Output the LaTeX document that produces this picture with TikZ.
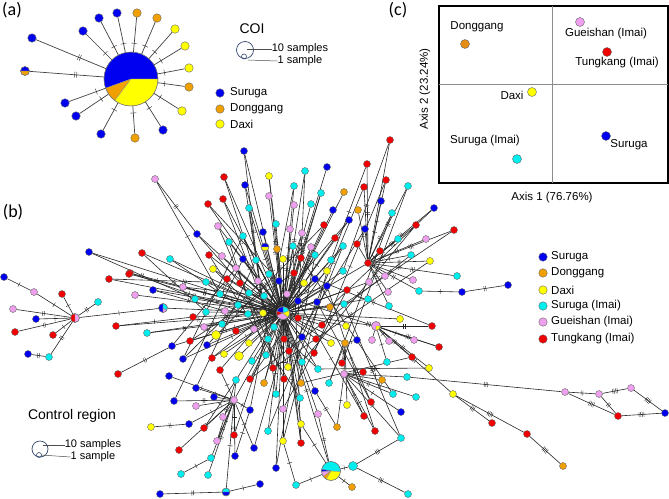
\documentclass[tikz,border=0pt]{standalone}
\usepackage{fontspec}
\setmainfont{Liberation Sans}
\newfontfamily\labfont{Carlito}
\usetikzlibrary{decorations.markings}
\pgfdeclarelayer{edges}
\pgfsetlayers{edges,main}
\definecolor{cSur}{RGB}{0,0,240}
\definecolor{cDon}{RGB}{240,160,0}
\definecolor{cDonC}{RGB}{228,140,20}
\definecolor{cDax}{RGB}{255,255,0}
\definecolor{cSI}{RGB}{0,238,238}
\definecolor{cGue}{RGB}{238,160,238}
\definecolor{cTun}{RGB}{240,0,0}
\definecolor{cNavy}{RGB}{50,70,110}
\newcommand{\pienode}[5]{%
  \foreach \pieA/\pieB/\pieC in {#5}{\fill[\pieC,draw=black!45,line width=0.3pt] (#2,#3) -- ++(\pieA:#4pt) arc[start angle=\pieA,end angle=\pieB,radius=#4pt] -- cycle;}%
  \node[circle,draw=black!60,line width=0.4pt,inner sep=0pt,minimum size={2*#4pt}] (#1) at (#2,#3) {};}
\begin{document}
\begin{tikzpicture}[x=1pt,y=-1pt,
  dot/.style={circle,draw=black!60,line width=0.4pt,inner sep=0pt,minimum size=7pt},
  bigdot/.style={dot,minimum size=9pt},
  adot/.style={dot,minimum size=8.5pt},
  cdot/.style={dot,minimum size=9pt},
  link/.style={draw=black!85,line width=0.6pt},
  alink/.style={draw=black!75,line width=0.7pt},
  mtick/.style={line width=0.4pt,black!85},
  t0/.style={},
  t1/.style={postaction={decorate},decoration={markings,mark=at position 0.5 with {\draw[mtick] (0pt,-2.5pt)--(0pt,2.5pt);}}},
  t2/.style={postaction={decorate},decoration={markings,mark=at position 0.5 with {\draw[mtick] (-0.9pt,-2.5pt)--(-0.9pt,2.5pt) (0.9pt,-2.5pt)--(0.9pt,2.5pt);}}},
  t3/.style={postaction={decorate},decoration={markings,mark=at position 0.5 with {\draw[mtick] (-1.6pt,-2.5pt)--(-1.6pt,2.5pt) (0pt,-2.5pt)--(0pt,2.5pt) (1.6pt,-2.5pt)--(1.6pt,2.5pt);}}},
  t4/.style={postaction={decorate},decoration={markings,mark=at position 0.5 with {\draw[mtick] (-2.4pt,-2.5pt)--(-2.4pt,2.5pt) (-0.8pt,-2.5pt)--(-0.8pt,2.5pt) (0.8pt,-2.5pt)--(0.8pt,2.5pt) (2.4pt,-2.5pt)--(2.4pt,2.5pt);}}},
  ta1/.style={postaction={decorate},decoration={markings,mark=at position 0.75 with {\draw[mtick] (0pt,-3pt)--(0pt,3pt);}}},
  ta2/.style={postaction={decorate},decoration={markings,mark=at position 0.62 with {\draw[mtick] (-1pt,-3pt)--(-1pt,3pt) (1pt,-3pt)--(1pt,3pt);}}},
  lab/.style={font=\fontsize{11.5}{13}\selectfont,inner sep=0pt},
  small/.style={font=\fontsize{11}{12}\selectfont,inner sep=0pt},
  panel/.style={font=\labfont\fontsize{18}{20}\selectfont,inner sep=0pt}
]
\useasboundingbox (0,0) rectangle (669,498);

% ---------------- panel (a) ----------------
\node[panel] (la) at (12,10) {(a)};
\pienode{A0}{131}{79}{27}{0/200/cSur,200/233/cDon,233/360/cDax}
\pienode{A17}{25}{71}{4.5}{0/180/cSur,180/360/cDon}
\begin{pgfonlayer}{edges}\draw[alink,ta2] (A17) -- (A0);\end{pgfonlayer}
\foreach \x/\y/\c/\t in {32/38/cSur/ta2,83/31/cSur/ta1,99/18/cSur/ta1,117/13/cSur/ta1,137/13/cDon/ta1,157/18/cDon/ta1,175/29/cDax/ta1,185/46/cDax/ta1,189/68/cDax/ta1,189/87/cDon/ta1,182/111/cDax/ta1,163/130/cSur/ta1,135/138/cDon/ta1,101/134/cSur/ta1,76/116/cSur/ta1,65/103/cSur/ta1}{
  \node[adot,fill=\c] (a\x-\y) at (\x,\y) {};
  \begin{pgfonlayer}{edges}\draw[alink,\t] (a\x-\y) -- (A0);\end{pgfonlayer}
}
% COI legend
\node[font=\fontsize{14}{16}\selectfont,inner sep=0pt] (coi) at (252,29) {COI};
\node[circle,draw=cNavy,line width=0.7pt,minimum size=17pt,inner sep=0pt] (lc10) at (245,50) {};
\node[circle,draw=cNavy,line width=0.6pt,minimum size=5pt,inner sep=0pt] (lc1) at (244,56.5) {};
\node[small] (t10) at (300,49) {10 samples};
\node[small] (t1s) at (300,61) {1 sample};
\coordinate (lc10e) at (247,49);
\coordinate (lc1e) at (248,60);
\draw[black!70,line width=0.5pt] (lc10e) -- (t10.west);
\draw[black!70,line width=0.5pt] (lc1e) -- (t1s.west);
\foreach \y/\c/\n in {93/cSur/Suruga,109/cDon/Donggang,124/cDax/Daxi}{
  \node[adot,fill=\c] (lga\y) at (220,\y) {};
  \node[lab,anchor=west] (lgat\y) at (230,\y) {\n};
}

% ---------------- panel (c) ----------------
\node[panel] (lcp) at (398,10) {(c)};
\draw[line width=1.2pt] (439,6) rectangle (668,183);
\coordinate (vt) at (552,6); \coordinate (vb) at (552,183);
\coordinate (hl) at (439,84); \coordinate (hr) at (668,84);
\draw[black!45,line width=0.6pt] (vt) -- (vb);
\draw[black!45,line width=0.6pt] (hl) -- (hr);
\node[cdot,fill=cDonC] (cD) at (465,44) {};
\node[cdot,fill=cGue] (cG) at (580,22) {};
\node[cdot,fill=cTun] (cT) at (607,52) {};
\node[cdot,fill=cDax] (cX) at (532,92) {};
\node[cdot,fill=cSI] (cI) at (517,159) {};
\node[cdot,fill=cSur] (cS) at (606,136) {};
\node[lab] at (477,27) {Donggang};
\node[lab] at (606,34) {Gueishan (Imai)};
\node[lab] at (617,63) {Tungkang (Imai)};
\node[lab] at (512,95) {Daxi};
\node[lab] at (485,141) {Suruga (Imai)};
\node[lab] at (629,145) {Suruga};
\node[lab,rotate=90] at (425,89) {Axis 2 (23.24\%)};
\node[lab] at (552,198) {Axis 1 (76.76\%)};

% ---------------- panel (b) ----------------
\node[panel] (lb) at (13,212) {(b)};
\node[font=\fontsize{14}{16}\selectfont,inner sep=0pt] (cr) at (72,416) {Control region};
\node[circle,draw=cNavy,line width=0.7pt,minimum size=16pt,inner sep=0pt] (lb10) at (40,449) {};
\node[circle,draw=cNavy,line width=0.6pt,minimum size=5pt,inner sep=0pt] (lb1) at (39,455) {};
\node[small] (bt10) at (93,445) {10 samples};
\node[small] (bt1) at (93,457) {1 sample};
\coordinate (lb10e) at (43,445);
\coordinate (lb1e) at (41,455);
\draw[black!70,line width=0.5pt] (lb10e) -- (bt10.west);
\draw[black!70,line width=0.5pt] (lb1e) -- (bt1.west);
\foreach \y/\c/\n in {257/cSur/Suruga,273/cDon/Donggang,290/cDax/Daxi,306/cSI/Suruga (Imai),322/cGue/Gueishan (Imai),339/cTun/Tungkang (Imai)}{
  \node[adot,fill=\c] (lgb\y) at (543,\y) {};
  \node[lab,anchor=west] (lgbt\y) at (551,\y) {\n};
}

% hubs
\pienode{H}{283}{313}{6.5}{20/90/cSI,90/165/cSur,165/205/cTun,205/320/cGue,320/380/cDax}
\pienode{BP}{331}{471}{9.5}{-5/170/cSI,170/185/cSur,185/215/cGue,215/240/cDon,240/355/cDax}
\pienode{PY}{376}{326}{4.5}{0/270/cGue,270/360/cDax}
\pienode{C163}{163}{308}{4.5}{90/270/cSur,270/330/cGue,330/450/cSI}
\pienode{L3}{75}{318}{4.5}{90/270/cTun,270/450/cGue}
\pienode{n265-247}{265}{247}{4}{0/180/cSur,180/360/cDax}
\pienode{n226-492}{226}{492}{4}{0/180/cSI,180/360/cSur}
\node[dot,fill=cTun] (R1) at (368,263) {};
\node[dot,fill=cGue] (P2) at (234,400) {};
\node[dot,fill=cDon] (O5) at (345,343) {};
\node[dot,fill=cGue] (P6) at (344,374) {};
\node[dot,fill=cDax] (Y7) at (453,394) {};
\node[bigdot,fill=cDax] (n216-335) at (216,335) {};
\node[bigdot,fill=cDax] (n239-356) at (239,356) {};
\node[bigdot,fill=cSI] (n353-466) at (353,466) {};
\begin{pgfonlayer}{edges}
\foreach \a/\b/\t in {H/R1/t0,H/P2/t1,H/O5/t0,O5/P6/t0,H/PY/t1,PY/Y7/t2,H/BP/t2,H/C163/t2,C163/L3/t1,H/n265-247/t0,H/n216-335/t0,H/n239-356/t0,BP/n353-466/t1,P2/n226-492/t1}
  \draw[link,\t] (\a) -- (\b);
\end{pgfonlayer}

\foreach \x/\y/\c/\p/\t in {
244/151/cSur/H/t2,224/177/cTun/H/t1,245/185/cSur/H/t2,269/176/cDax/H/t3,305/171/cSI/H/t2,
327/167/cSur/H/t2,294/186/cSI/H/t1,321/193/cSI/H/t3,344/192/cDon/H/t1,208/204/cTun/H/t1,
223/199/cTun/H/t1,269/196/cGue/H/t2,249/208/cSI/H/t1,294/205/cGue/H/t3,311/204/cSI/H/t2,
333/210/cSur/H/t1,349/220/cSur/H/t1,218/226/cGue/H/t1,276/224/cSI/H/t2,324/225/cTun/H/t1,
197/234/cSur/H/t1,155/179/cGue/n197-234/t2,243/236/cSI/H/t0,263/232/cSur/H/t1,290/229/cGue/H/t2,
302/233/cGue/H/t1,335/238/cTun/H/t1,229/242/cSI/H/t0,277/249/cDon/H/t0,293/246/cSI/H/t1,
311/247/cGue/H/t0,343/246/cSI/H/t1,142/253/cTun/H/t2,209/255/cTun/H/t1,222/256/cGue/H/t0,
243/259/cSur/H/t0,256/260/cSI/H/t1,283/259/cDax/H/t0,301/258/cTun/H/t1,315/255/cSI/H/t0,
331/260/cSI/H/t0,170/259/cSI/H/t2,213/269/cDax/H/t1,236/268/cGue/H/t0,269/274/cSI/H/t0,
294/273/cTun/H/t0,327/271/cDax/H/t1,343/271/cSI/H/t0,130/273/cTun/H/t2,227/279/cTun/H/t0,
240/283/cTun/H/t0,258/281/cGue/H/t0,279/281/cSur/H/t0,304/283/cDax/H/t0,315/279/cSur/H/t0,
327/286/cSur/H/t1,347/290/cTun/H/t1,183/287/cGue/H/t1,206/282/cSI/H/t0,153/290/cSur/H/t1,
135/295/cGue/H/t1,220/294/cSI/H/t0,249/293/cSI/H/t0,264/296/cSI/H/t0,287/294/cGue/H/t0,
195/299/cSI/H/t1,298/301/cSur/H/t0,317/302/cSur/H/t0,330/307/cDon/H/t0,344/304/cSI/H/t1,
238/305/cSI/H/t0,206/312/cSI/H/t0,225/311/cGue/H/t0,248/314/cSI/H/t0,263/313/cDax/H/t0,
193/317/cTun/H/t1,298/318/cTun/H/t0,
390/140/cTun/R1/t2,367/164/cTun/R1/t2,386/180/cTun/R1/t1,364/187/cTun/R1/t1,408/186/cSI/R1/t2,
381/201/cSur/R1/t1,358/210/cDon/R1/t1,392/213/cSI/R1/t2,434/208/cSur/R1/t3,365/229/cSur/R1/t1,
416/225/cTun/R1/t3,454/230/cTun/R1/t3,398/239/cSI/R1/t1,426/239/cGue/R1/t2,357/244/cTun/R1/t0,
380/251/cTun/R1/t1,411/255/cSI/R1/t1,430/261/cDax/R1/t2,385/276/cGue/R1/t1,413/280/cGue/R1/t2,
457/276/cSI/R1/t3,419/291/cSI/R1/t2,462/292/cSur/n419-291/t1,508/285/cSur/n462-292/t2,
388/292/cGue/R1/t1,389/306/cSI/R1/t1,369/282/cGue/H/t0,368/299/cSI/H/t0,400/319/cDax/H/t1,
116/326/cTun/H/t2,147/333/cSI/H/t1,204/327/cGue/H/t0,222/324/cSI/H/t0,236/331/cTun/H/t0,
254/329/cGue/H/t0,274/327/cSI/H/t0,322/325/cTun/H/t0,346/326/cDax/H/t0,432/326/cTun/PY/t2,
172/346/cSur/H/t1,190/341/cTun/H/t1,207/345/cSur/H/t0,249/343/cDax/H/t0,268/339/cSI/H/t0,
284/339/cTun/H/t0,302/337/cSur/H/t0,316/339/cTun/H/t0,331/343/cDax/H/t0,357/340/cSur/O5/t1,
372/340/cGue/PY/t0,389/341/cGue/PY/t1,414/340/cGue/PY/t1,439/347/cTun/PY/t3,183/359/cSur/H/t1,
224/354/cDax/H/t0,212/358/cTun/H/t1,266/355/cSI/H/t0,289/351/cTun/H/t0,314/353/cTun/H/t0,
252/361/cSI/H/t0,220/370/cTun/P2/t1,273/368/cTun/H/t0,288/367/cDax/H/t0,302/362/cSI/H/t0,
342/363/cTun/O5/t0,387/362/cSI/PY/t1,412/357/cTun/PY/t2,429/368/cDax/PY/t2,318/369/cSI/H/t1,
363/372/cTun/P6/t1,118/374/cTun/n172-346/t2,169/376/cSur/P2/t1,236/380/cSI/P2/t0,250/379/cTun/H/t0,
284/379/cTun/H/t0,264/383/cDon/H/t0,301/383/cDon/H/t0,329/383/cSI/O5/t0,382/380/cDon/P6/t1,
407/377/cSI/P6/t1,196/388/cSur/P2/t1,276/394/cSI/H/t1,315/391/cSur/H/t0,300/398/cSI/H/t1,
393/394/cSI/P6/t2,416/397/cSI/P6/t2,174/401/cSur/P2/t2,214/397/cSur/P2/t0,196/406/cGue/P2/t0,
371/402/cTun/O5/t1,347/405/cDax/O5/t1,250/410/cSur/P2/t1,283/409/cGue/H/t1,318/414/cGue/H/t1,
401/412/cSur/P6/t1,364/416/cTun/P6/t1,223/417/cGue/P2/t0,189/424/cSur/P2/t1,151/427/cDax/n189-424/t2,
204/428/cTun/P2/t0,268/431/cSI/H/t1,301/424/cDax/H/t1,337/427/cDon/P6/t1,375/431/cTun/P6/t1,
234/435/cTun/P2/t1,217/441/cGue/P2/t1,283/441/cDax/H/t0,301/443/cTun/H/t1,401/438/cSI/P6/t1,
254/448/cSur/P2/t1,179/450/cTun/P2/t1,235/456/cSur/P2/t2,211/458/cSI/P2/t1,276/468/cSur/H/t0,
181/474/cSI/n211-458/t1,208/475/cSI/P2/t2,260/484/cSur/n226-492/t1,296/485/cSI/BP/t1,352/487/cDon/BP/t1,
408/494/cSI/n353-466/t3,160/494/cSur/n226-492/t2,
89/252/cSur/H/t3,34/292/cGue/L3/t1,4/277/cSur/n34-292/t1,62/294/cTun/L3/t1,129/274/cTun/H/t2,
109/279/cTun/H/t2,98/302/cSI/L3/t2,13/309/cGue/L3/t2,36/319/cSur/L3/t1,15/332/cTun/L3/t2,
53/335/cTun/L3/t1,49/357/cSI/L3/t2,28/354/cSur/n49-357/t2,
492/423/cTun/Y7/t3,527/434/cTun/Y7/t4,563/466/cDon/n527-434/t4,565/392/cGue/n407-377/t3,
599/394/cGue/n565-392/t2,631/388/cGue/n599-394/t4,618/416/cTun/n565-392/t4,665/413/cSur/n631-388/t4}{
  \node[dot,fill=\c] (n\x-\y) at (\x,\y) {};
  \begin{pgfonlayer}{edges}\draw[link,\t] (\p) -- (n\x-\y);\end{pgfonlayer}
}

\begin{pgfonlayer}{edges}
\foreach \a/\b/\t in {n599-394/n618-416/t2,n618-416/n665-413/t4,
n224-177/n258-281/t0,n305-171/n298-318/t2,n208-204/n279-281/t1,n390-140/n343-271/t2,
n367-164/n331-260/t1,n454-230/n344-304/t3,n434-208/n330-307/t2,n416-225/n302-362/t1,
n430-261/n273-368/t2,n411-255/n250-379/t1,n439-347/n298-301/t3,n432-326/n315-279/t2,
n429-368/n318-369/t4,n412-357/n301-383/t2,n393-394/n301-258/t1,n142-253/n206-312/t2,
n130-273/n248-314/t1,n170-259/n238-305/t2,n183-287/n264-296/t1,n153-290/n225-311/t2,
n172-346/n236-268/t1,n183-359/n269-274/t2,n196-388/n256-260/t1,n174-401/n243-259/t2,
n234-435/n302-233/t1,n254-448/n311-247/t2,n283-441/n327-271/t1,n301-443/n293-246/t3,
n268-431/n343-246/t1,n276-468/n315-255/t2,n283-409/n347-290/t1,n337-427/n315-391/t2,
n375-431/n327-286/t1,n401-438/n344-304/t2,n364-416/n298-301/t1,n371-402/n317-302/t2,
n116-326/n193-317/t1,n147-333/n222-324/t2,n204-428/n236-380/t1,n217-441/n236-380/t2,
n235-456/n250-410/t1,BP/n318-414/t2,BP/n301-424/t1,n353-466/n401-438/t3,
n296-485/n283-441/t1,n244-151/n263-313/t2,n155-179/n220-294/t1,n89-252/n195-299/t2,
n109-279/n206-282/t1,
n269-176/n301-443/t2,n245-185/n276-394/t1,n321-193/n264-383/t2,n294-186/n250-410/t3,
n349-220/n220-370/t1,n324-225/n207-345/t2,n386-180/n314-353/t1,n364-187/n302-337/t2,
n408-186/n342-363/t3,n392-213/n329-383/t1,n365-229/n289-351/t1,n218-226/n284-379/t2,
n223-199/n288-367/t1,n249-208/n273-368/t2,n209-255/n300-398/t1,n213-269/n318-369/t2,
n190-341/n294-273/t1,n212-358/n304-283/t2,n204-327/n327-286/t1,n236-380/n315-255/t2,
n250-379/n343-246/t1,n183-359/n243-236/t1,n197-234/n240-283/t0,n229-242/n266-355/t1}
  \draw[link,\t] (\a) -- (\b);
\end{pgfonlayer}
\end{tikzpicture}
\end{document}
